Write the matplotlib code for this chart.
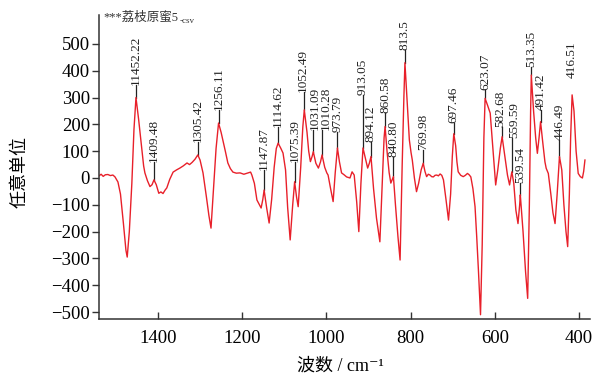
import matplotlib
matplotlib.use('Agg')
import matplotlib.pyplot as plt
import numpy as np

plt.rcParams['font.family'] = ['Liberation Serif', 'Noto Sans CJK SC', 'DejaVu Sans']

# spectrum (wavenumber in cm-1, arbitrary units)
wavenumber = [1540, 1535, 1530, 1525, 1519, 1513, 1507, 1502, 1495, 1489, 1482, 1476, 1473, 1468, 1462,
              1457, 1452.2, 1446, 1439, 1434, 1431, 1425, 1419, 1414, 1409.5, 1404, 1398, 1393, 1388, 1383,
              1379, 1372, 1364, 1356, 1348, 1340, 1331, 1325, 1319, 1312, 1305.4, 1300, 1293, 1285, 1279,
              1274, 1268, 1262, 1256.1, 1250, 1246, 1240, 1234, 1228, 1222, 1214, 1205, 1196, 1186, 1180,
              1177, 1171, 1165, 1159, 1155, 1151, 1147.9, 1142, 1136, 1130, 1124, 1119, 1114.6, 1108, 1103,
              1097, 1092, 1086, 1080, 1075.4, 1071, 1067, 1061, 1056, 1052.5, 1046, 1042, 1038, 1034, 1031.1,
              1025, 1019, 1014, 1010.3, 1004, 999, 996, 990, 984, 979, 973.8, 969, 964, 958, 952,
              944, 939, 934, 928, 923, 918, 913.1, 907, 902, 898, 894.1, 888, 881, 873, 867,
              863, 860.6, 856, 851, 847, 843.5, 840.8, 836, 830, 825, 820, 816, 813.5, 808, 803,
              799, 796, 791, 786, 781, 775, 770, 766, 762, 758, 754, 750, 746, 742, 738,
              734, 730, 726, 722, 716, 710, 705, 701, 697.5, 693, 690, 687, 681, 675, 670,
              665, 661, 657, 652, 647, 643, 639, 634, 630, 626, 623.1, 617, 611, 605, 598,
              593, 587, 582.7, 576, 570, 565, 559.6, 555, 550, 545, 541, 539.5, 533, 527, 522,
              518, 515, 513.4, 508, 503, 499, 495, 491.4, 486, 481, 478, 473, 467, 462, 457,
              452, 446.5, 441, 436, 431, 427, 423, 420, 416.5, 412, 407, 402, 397, 392, 389, 386]
intensity = [8, 14, 6, 12, 13, 9, 11, 4, -15, -60, -170, -270, -295, -200, -20,
             180, 300, 220, 117, 45, 19, -10, -32, -25, -7, -25, -57, -52, -58, -45,
             -37, -5, 22, 30, 37, 45, 56, 50, 58, 70, 86, 67, 19, -70, -140,
             -187, -40, 110, 205, 170, 142, 100, 56, 35, 22, 18, 19, 14, 19, 22,
             11, -20, -82, -100, -112, -80, -45, -110, -168, -80, 40, 110, 130, 110, 93,
             30, -110, -231, -100, -14, -70, -107, 40, 190, 254, 170, 100, 61, 80, 98,
             55, 37, 60, 86, 40, 19, 11, -40, -88, 20, 112, 60, 19, 12, 4,
             0, 23, 11, -90, -200, -20, 112, 70, 37, 55, 80, -40, -150, -238, 0,
             150, 192, 100, 20, -19, -5, 5, -100, -220, -306, 50, 300, 430, 280, 142,
             95, 67, 0, -51, -20, 30, 55, 25, 5, 14, 11, 5, 4, 10, 11,
             8, 15, 10, -7, -80, -157, -60, 80, 165, 120, 60, 23, 10, 5, 10,
             17, 12, 4, -40, -107, -220, -343, -510, -250, 150, 297, 270, 242, 120, -26,
             30, 110, 154, 80, 11, -26, 23, -20, -120, -170, -100, -63, -200, -350, -449,
             -100, 250, 384, 250, 150, 92, 150, 210, 130, 60, 36, 17, -60, -130, -170,
             -60, 80, 30, -100, -200, -256, -60, 150, 310, 250, 100, 17, 5, 0, 25, 67]

# peak labels
peak_text = ['11452.22', '1409.48', '1305.42', '1256.11', '1147.87', '1114.62', '1075.39', '1052.49',
             '1031.09', '1010.28', '973.79', '913.05', '894.12', '860.58', '840.80', '813.5', '769.98',
             '697.46', '623.07', '582.68', '559.59', '539.54', '513.35', '491.42', '446.49', '416.51']
peak_wn = [1452.22, 1409.48, 1305.42, 1256.11, 1147.87, 1114.62, 1075.39, 1052.49,
           1031.09, 1010.28, 973.79, 913.05, 894.12, 860.58, 840.80, 813.5, 769.98,
           697.46, 623.07, 582.68, 559.59, 539.54, 513.35, 491.42, 446.49, 416.51]
# height where each label's text starts
label_y = [347, 60, 134, 254, 30, 190, 60, 321,
           180, 180, 172, 310, 134, 243, 78, 478, 104,
           205, 328, 190, 149, -19, 414, 254, 142, 373]
# small sideways nudge (points) for crowded labels
label_dx = [0, 0, 0, 0, 0, 0, 0, -1,
            1, 2.5, 0, 0, 0, 0, 0, 0, 0,
            0, 0, -1.5, 1.5, 0, 0, 0, 0, 0]

fig = plt.figure(figsize=(5.95, 3.81), dpi=100)
ax = fig.add_axes([99/595, 1-319/381, 491/595, 304/381])

ax.plot(wavenumber, intensity, color='#e8202a', lw=1.0)

wn_up = wavenumber[::-1]
val_up = intensity[::-1]
for txt, w, ly, dx in zip(peak_text, peak_wn, label_y, label_dx):
    py = np.interp(w, wn_up, val_up)
    if txt != '416.51':
        ax.plot([w, w], [py, ly], color='#222222', lw=0.9, zorder=1)
    ax.annotate(txt, (w, ly), xytext=(dx, 0), textcoords='offset points', rotation=90,
                ha='center', va='bottom', fontsize=9.5, color='#222222')

ax.set_xlim(1540, 374)
ax.set_ylim(-526, 608)
ax.set_xticks([1400, 1200, 1000, 800, 600, 400])
ax.set_yticks(np.arange(-500, 501, 100))

ax.spines['top'].set_visible(False)
ax.spines['right'].set_visible(False)
for s in ['left', 'bottom']:
    ax.spines[s].set_linewidth(1.1)
    ax.spines[s].set_color('#333333')
ax.tick_params(axis='y', direction='out', length=5, width=1.0, pad=1.5, labelsize=13.5, color='#333333')
ax.tick_params(axis='x', direction='in', length=5, width=1.0, pad=8, labelsize=13.5, color='#333333')

fig.text(20/595, 1-172/381, '任意单位', rotation=90, ha='center', va='center', fontsize=13)
fig.text(340/595, 1-366/381, '波数 / cm⁻¹', ha='center', va='center', fontsize=13)

t = fig.text(103/595, 1-18/381, '***荔枝原蜜5', ha='left', va='center', fontsize=9, color='#333333')
fig.canvas.draw()
bb = t.get_window_extent()
fig.text(bb.x1/595 + 0.002, 1-21/381, '-csv', ha='left', va='center', fontsize=6.5, color='#333333')

plt.savefig('out.png', dpi=100)
